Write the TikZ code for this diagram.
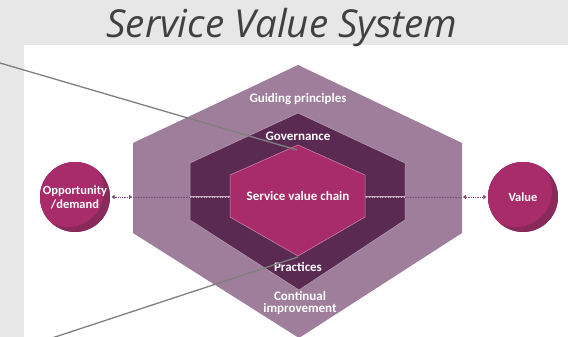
\documentclass[tikz,border=0pt]{standalone}
\usepackage{fontspec}
\setmainfont{Carlito}
\newfontfamily\titlefont{Open Sans}
\usetikzlibrary{shapes.geometric, arrows.meta, positioning, calc}

\definecolor{bggray}{HTML}{E7E7E7}
\definecolor{outerhex}{HTML}{9E7E9A}
\definecolor{midhex}{HTML}{5B2A53}
\definecolor{innerhex}{HTML}{A82C69}
\definecolor{circdark}{HTML}{8A2A5B}
\definecolor{linegray}{HTML}{7F7F7F}
\definecolor{titlegray}{HTML}{404040}
\definecolor{flowpurple}{HTML}{7B4B74}

\begin{document}
\begin{tikzpicture}[x=1pt,y=-1pt]

\tikzstyle{hexlabel}=[text=white,font=\bfseries\fontsize{13}{12.5}\selectfont,align=center,inner sep=0pt]
\tikzstyle{endpoint}=[circle,minimum size=70pt,inner sep=0pt,fill=innerhex,text=white,align=center,
  font=\bfseries\fontsize{12.5}{14}\selectfont,
  path picture={\fill[circdark] (path picture bounding box.center) circle (36pt);
                \fill[innerhex] ($(path picture bounding box.center)+(-7pt,6pt)$) circle (36pt);}]
\tikzstyle{pointer}=[draw=linegray,line width=1.3pt]
\tikzstyle{flow}=[flowpurple,densely dotted,line width=0.8pt,{Triangle[length=3pt,width=4.5pt]}-{Triangle[length=3pt,width=4.5pt]}]

% BACKGROUND
\fill[bggray] (0,0) rectangle (568,337);
\fill[white] (24,45) rectangle (568,337);
\useasboundingbox (0,0) rectangle (568,337);

\node[font=\titlefont\itshape\fontsize{38.5}{38}\selectfont,text=titlegray,anchor=base](title) at (282,38){Service Value System};

% HEXAGONS
\fill[outerhex] (298,65) -- (462,143) -- (462,233) -- (299,338) -- (133,233) -- (133,143) -- cycle;
\filldraw[fill=midhex,draw=outerhex!70!white,line width=0.5pt] (298,113) -- (405,163) -- (405,220) -- (299,290) -- (190,220) -- (190,163) -- cycle;
\draw[outerhex!60!white,line width=2.5pt] (190,197) -- (405,197);
\draw[flowpurple,densely dotted,line width=0.6pt] (133,197) -- (462,197);
\filldraw[fill=innerhex,draw=innerhex!55!white,line width=0.5pt] (298,145) -- (365,175) -- (365,217) -- (298,256) -- (230,217) -- (230,175) -- cycle;

% NODES
\node[hexlabel](guiding) at (298,99){Guiding principles};
\node[hexlabel](gov) at (298,136){Governance};
\node[hexlabel](svc) at (298,196){Service value chain};
\node[hexlabel](prac) at (298,267){Practices};
\node[hexlabel](cont) at (300,303){Continual\\improvement};

\node[endpoint](opp) at (75,197){Opportunity\\/demand};
\node[endpoint](val) at (523,197){Value};

\coordinate(hexW) at (132,197);
\coordinate(hexE) at (463,197);
\coordinate(govtip) at (297,150);
\coordinate(practip) at (298,257);
\coordinate(upperend) at (0,63);
\coordinate(lowerend) at (52,338);

% ARROWS
\draw[flow,shorten <=1.5pt](opp) -- (hexW);
\draw[flow,shorten >=1.5pt](hexE) -- (val);

\draw[pointer](upperend) -- (govtip);
\draw[pointer](lowerend) -- (practip);

\end{tikzpicture}
\end{document}
